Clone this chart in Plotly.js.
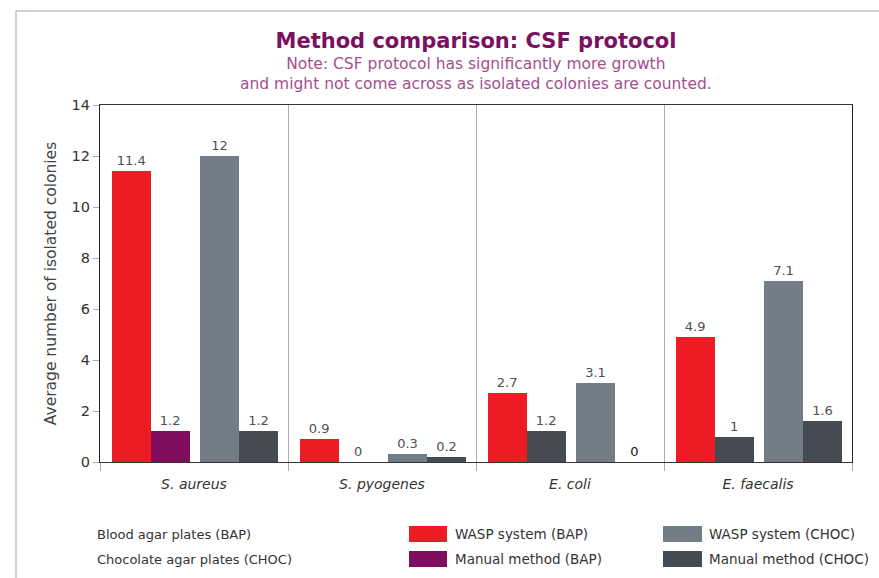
<!DOCTYPE html>
<html><head><meta charset="utf-8">
<script src="https://cdn.plot.ly/plotly-3.0.1.min.js"></script>
<style>html,body{margin:0;padding:0;background:#fff}#chart{width:879px;height:578px}</style>
</head><body><div id="chart"></div>
<script>
// ---- data ----
const categories = ["S. aureus", "S. pyogenes", "E. coli", "E. faecalis"];
const seriesNames = ["WASP system (BAP)", "Manual method (BAP)", "WASP system (CHOC)", "Manual method (CHOC)"];
const waspBAP = [11.4, 0.9, 2.7, 4.9];
const manualBAP = [1.2, 0, 1.2, 1];
const waspCHOC = [12, 0.3, 3.1, 7.1];
const manualCHOC = [1.2, 0.2, 0, 1.6];
const plateNotes = ["Blood agar plates (BAP)", "Chocolate agar plates (CHOC)"];
const titleText = "Method comparison: CSF protocol";
const noteText = "Note: CSF protocol has significantly more growth<br>and might not come across as isolated colonies are counted.";
const yTitle = "Average number of isolated colonies";

// ---- style ----
const RED = "#ed1c24", PURPLE = "#7f0f5e", GRAY = "#727d88", DARK = "#464a52";
const LBL = "#4b4f58";
const FONT = "DejaVu Sans, Verdana, sans-serif";
const W = 0.2074;

function bar(vals, name, offset, colors, textColors) {
  return {
    type: "bar", x: categories, y: vals, name: name,
    offset: offset, width: W,
    marker: {color: colors, line: {width: 0}},
    text: vals.map(v => String(v)), textposition: "outside",
    textfont: {family: FONT, size: 13, color: textColors},
    constraintext: "none", cliponaxis: false,
    showlegend: false, hoverinfo: "x+y+name"
  };
}

const traces = [
  bar(waspBAP, seriesNames[0], -0.4378, RED, LBL),
  bar(manualBAP, seriesNames[1], -0.2304, [PURPLE, PURPLE, DARK, DARK], LBL),
  bar(waspCHOC, seriesNames[2], 0.0319, GRAY, LBL),
  bar(manualCHOC, seriesNames[3], 0.2394, DARK, [LBL, LBL, "#111", LBL])
];

const L = 100, R = 27, T = 105, B = 116, PW = 879 - L - R, PH = 578 - T - B;
const px = x => (x - L) / PW;          // pixel -> paper x
const py = y => (578 - B - y) / PH;    // pixel -> paper y

const shapes = [
  {type: "line", xref: "paper", yref: "paper", x0: px(16), x1: px(16), y0: py(11), y1: py(580), line: {color: "#9aa4b0", width: 1}},
  {type: "line", xref: "paper", yref: "paper", x0: px(16), x1: px(881), y0: py(11), y1: py(11), line: {color: "#9aa4b0", width: 1}},
  {type: "rect", xref: "paper", yref: "paper", x0: px(409), x1: px(447), y0: py(526), y1: py(542), fillcolor: RED, line: {width: 0}},
  {type: "rect", xref: "paper", yref: "paper", x0: px(409), x1: px(447), y0: py(551), y1: py(567), fillcolor: PURPLE, line: {width: 0}},
  {type: "rect", xref: "paper", yref: "paper", x0: px(663), x1: px(702), y0: py(526), y1: py(542), fillcolor: GRAY, line: {width: 0}},
  {type: "rect", xref: "paper", yref: "paper", x0: px(663), x1: px(702), y0: py(551), y1: py(567), fillcolor: DARK, line: {width: 0}}
];

function ann(text, xPix, yPix, size) {
  return {text: text, xref: "paper", yref: "paper", x: px(xPix), y: py(yPix), xanchor: "left", yanchor: "middle", showarrow: false,
          font: {family: FONT, size: size, color: "#333"}};
}
const annotations = [
  {text: noteText, xref: "paper", yref: "paper", x: 0.5, y: py(74), xanchor: "center", yanchor: "middle", showarrow: false,
   font: {family: FONT, size: 15.5, color: "#a34f90"}},
  ann(plateNotes[0], 95, 534, 13),
  ann(plateNotes[1], 95, 559, 13),
  ann(seriesNames[0], 453, 534, 13.5),
  ann(seriesNames[1], 453, 559, 13.5),
  ann(seriesNames[2], 707, 534, 13.5),
  ann(seriesNames[3], 707, 559, 13.5)
];

const layout = {
  width: 879, height: 578,
  margin: {l: L, r: R, t: T, b: B},
  paper_bgcolor: "#fff", plot_bgcolor: "#fff",
  font: {family: FONT, color: "#333"},
  title: {text: titleText, x: 0.5, xref: "paper", xanchor: "center", y: 1 - 41 / 578, yanchor: "middle",
          font: {family: FONT, size: 21, color: "#7a1060", weight: "bold"}},
  xaxis: {type: "category", range: [-0.5, 3.5], tickson: "boundaries", ticks: "outside", ticklen: 8, tickcolor: "#a9aeb5",
          ticklabelstandoff: 9,
          showgrid: true, gridcolor: "#a9aeb5", gridwidth: 1,
          showline: true, linecolor: "#333", linewidth: 1.2, mirror: true,
          tickfont: {family: FONT, size: 14, color: "#333", style: "italic"}, fixedrange: true},
  yaxis: {range: [0, 14], dtick: 2, ticks: "outside", ticklen: 6, tickcolor: "#a9aeb5",
          showgrid: false, zeroline: false, showline: true, linecolor: "#222", linewidth: 1.2, mirror: true,
          tickfont: {family: FONT, size: 14.5, color: "#333"},
          title: {text: yTitle, font: {family: FONT, size: 15.5, color: "#444"}, standoff: 11}, fixedrange: true},
  bargap: 0, shapes: shapes, annotations: annotations, showlegend: false
};

Plotly.newPlot("chart", traces, layout, {displayModeBar: false, staticPlot: true});
</script></body></html>
